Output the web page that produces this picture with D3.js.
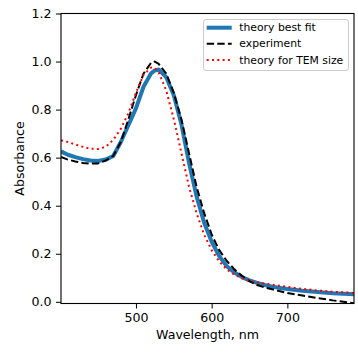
<!DOCTYPE html>
<html>
<head>
<meta charset="utf-8">
<script src="https://cdn.jsdelivr.net/npm/d3@7"></script>
<style>
  html, body { margin: 0; padding: 0; background: #fff; }
  svg { display: block; font-family: "DejaVu Sans", sans-serif; }
</style>
</head>
<body>
<svg id="chart" width="358" height="358"></svg>
<script>
// ---- data ----
const wavelengths = [401, 410, 420, 430, 440, 450, 460, 470, 480, 490, 500, 510, 520, 525, 530, 540, 550, 560, 570, 580, 590, 600, 610, 620, 630, 640, 650, 660, 670, 680, 700, 720, 740, 760, 788];
const bestFit = [0.626, 0.612, 0.602, 0.594, 0.588, 0.586, 0.592, 0.607, 0.665, 0.735, 0.805, 0.895, 0.951, 0.963, 0.967, 0.935, 0.86, 0.74, 0.58, 0.44, 0.33, 0.25, 0.19, 0.148, 0.122, 0.103, 0.089, 0.079, 0.07, 0.063, 0.053, 0.046, 0.041, 0.036, 0.031];
const experiment = [0.603, 0.592, 0.584, 0.578, 0.575, 0.576, 0.588, 0.607, 0.665, 0.76, 0.86, 0.95, 0.995, 1.0, 0.99, 0.95, 0.87, 0.76, 0.62, 0.48, 0.37, 0.28, 0.215, 0.17, 0.135, 0.108, 0.086, 0.07, 0.06, 0.052, 0.037, 0.026, 0.016, 0.006, -0.006];
const temSize = [0.672, 0.665, 0.655, 0.645, 0.637, 0.636, 0.645, 0.674, 0.72, 0.785, 0.87, 0.945, 0.975, 0.972, 0.955, 0.88, 0.76, 0.62, 0.48, 0.37, 0.28, 0.215, 0.168, 0.135, 0.113, 0.098, 0.088, 0.081, 0.076, 0.071, 0.062, 0.054, 0.047, 0.042, 0.037];
const seriesNames = ["theory best fit", "experiment", "theory for TEM size"];
const xTicks = [500, 600, 700];
const yTicks = [0.0, 0.2, 0.4, 0.6, 0.8, 1.0, 1.2];
const xLabel = "Wavelength, nm";
const yLabel = "Absorbance";

// ---- layout ----
const mLeft = 61, mRight = 354, mTop = 13.5, mBottom = 303.5;
const svg = d3.select("#chart");

const x = d3.scaleLinear().domain([401, 788]).range([mLeft, mRight]);
const y = d3.scaleLinear().domain([-0.007, 1.2]).range([mBottom, mTop]);

const styles = [
  { color: "#1f77b4", width: 4, dash: null },
  { color: "#000000", width: 2, dash: "7.4,3.2" },
  { color: "#ff0000", width: 2, dash: "2,3.3" }
];
const series = [bestFit, experiment, temSize];

svg.append("defs").append("clipPath").attr("id", "clip")
  .append("rect").attr("x", mLeft).attr("y", mTop).attr("width", mRight - mLeft).attr("height", mBottom - mTop);

const line = d3.line().x((d, i) => x(wavelengths[i])).y(d => y(d));

const plot = svg.append("g").attr("clip-path", "url(#clip)");
series.forEach((s, k) => {
  plot.append("path")
    .datum(s)
    .attr("d", line)
    .attr("fill", "none")
    .attr("stroke", styles[k].color)
    .attr("stroke-width", styles[k].width)
    .attr("stroke-dasharray", styles[k].dash)
    .attr("stroke-linejoin", "round");
});

// axes
const fontSize = 12.6;
const xAxis = svg.append("g").attr("transform", `translate(0,${mBottom})`)
  .call(d3.axisBottom(x).tickValues(xTicks).tickFormat(d3.format("d")).tickSize(5).tickSizeOuter(0).tickPadding(4.5));
const yAxis = svg.append("g").attr("transform", `translate(${mLeft},0)`)
  .call(d3.axisLeft(y).tickValues(yTicks).tickFormat(d3.format(".1f")).tickSize(5).tickSizeOuter(0).tickPadding(4.5));
[xAxis, yAxis].forEach(a => {
  a.select(".domain").remove();
  a.selectAll("text").attr("font-size", fontSize).attr("font-family", "DejaVu Sans").attr("fill", "#000");
  a.selectAll("line").attr("stroke", "#000").attr("stroke-width", 1);
});

// spines
svg.append("rect")
  .attr("x", mLeft).attr("y", mTop).attr("width", mRight - mLeft).attr("height", mBottom - mTop)
  .attr("fill", "none").attr("stroke", "#000").attr("stroke-width", 1.1);

// axis labels
svg.append("text")
  .attr("x", (mLeft + mRight) / 2).attr("y", 339)
  .attr("text-anchor", "middle").attr("font-size", fontSize).text(xLabel);
svg.append("text")
  .attr("transform", `translate(24,${(mTop + mBottom) / 2}) rotate(-90)`)
  .attr("text-anchor", "middle").attr("font-size", fontSize).text(yLabel);

// legend
const lg = svg.append("g");
lg.append("rect")
  .attr("x", 203.5).attr("y", 19.5).attr("width", 145).attr("height", 51)
  .attr("rx", 2.5).attr("fill", "#fff").attr("fill-opacity", 0.8)
  .attr("stroke", "#cccccc").attr("stroke-width", 1);
const entryY = [27.7, 43.7, 60];
seriesNames.forEach((name, k) => {
  lg.append("line")
    .attr("x1", 206.7).attr("x2", 231.7).attr("y1", entryY[k]).attr("y2", entryY[k])
    .attr("stroke", styles[k].color).attr("stroke-width", styles[k].width)
    .attr("stroke-dasharray", styles[k].dash);
  lg.append("text")
    .attr("x", 239.3).attr("y", entryY[k]).attr("dy", "0.35em")
    .attr("font-size", 10.8).text(name);
});
</script>
</body>
</html>
